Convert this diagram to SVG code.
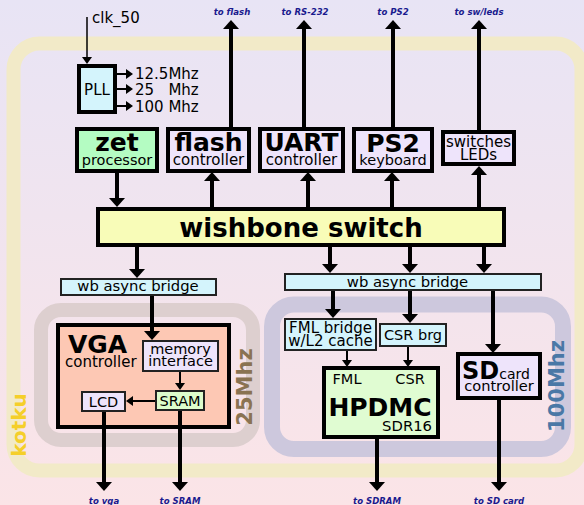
<svg xmlns="http://www.w3.org/2000/svg" width="584" height="505" viewBox="0 0 584 505">
<defs>
<linearGradient id="bg" x1="0" y1="0" x2="0" y2="1">
<stop offset="0" stop-color="#e8e4f5"/>
<stop offset="1" stop-color="#fbe4e7"/>
</linearGradient>
<marker id="ah" markerUnits="userSpaceOnUse" markerWidth="9" markerHeight="16" viewBox="0 0 9 16" refX="0" refY="8" orient="auto">
<path d="M0,0 L9,8 L0,16 z" fill="#000"/>
</marker>
<marker id="ahs" markerUnits="userSpaceOnUse" markerWidth="7" markerHeight="10" viewBox="0 0 7 10" refX="0" refY="5" orient="auto">
<path d="M0,0 L7,5 L0,10 z" fill="#000"/>
</marker>
</defs>
<style>
text{font-family:"DejaVu Sans","Liberation Sans",sans-serif;fill:#000}
.b{font-weight:bold}
.c{text-anchor:middle}
.box{stroke:#000;stroke-width:4}
.sm{stroke:#222;stroke-width:2}
.ln{stroke:#000;stroke-width:4;fill:none;marker-end:url(#ah)}
.tn{stroke:#000;stroke-width:2;fill:none;marker-end:url(#ahs)}
.lbl{font-family:"DejaVu Sans","Liberation Sans",sans-serif;font-style:italic;font-stretch:condensed;font-size:9.5px;font-weight:600;fill:#1a1a8e;text-anchor:middle}
.pre{white-space:pre}
</style>
<rect width="584" height="505" fill="url(#bg)"/>

<g id="domains">
<rect x="13.5" y="43.5" width="568" height="427" rx="26" fill="none" stroke="#f2eac8" stroke-width="14"/>
<rect x="41" y="310" width="212" height="130" rx="20" fill="none" stroke="#ddcfcf" stroke-width="14"/>
<rect x="272" y="304.5" width="291" height="144.5" rx="22" fill="none" stroke="#cdc8dd" stroke-width="16"/>
<text class="b c" font-size="20" style="fill:#f5cf2a" transform="translate(26,425) rotate(-90)">kotku</text>
<text class="b c" font-size="21" style="fill:#8a7352" transform="translate(252,387) rotate(-90)">25Mhz</text>
<text class="b c" font-size="21" style="fill:#4a78a6" transform="translate(564,386) rotate(-90)">100Mhz</text>
</g>

<g id="labels">
<text x="92" y="23" font-size="15">clk_50</text>
<text class="pre" x="135" y="79" font-size="15">12.5Mhz</text>
<text class="pre" x="135" y="95" font-size="15">25   Mhz</text>
<text class="pre" x="135" y="112" font-size="15">100 Mhz</text>
<text class="lbl" x="232" y="15">to flash</text>
<text class="lbl" x="305" y="15">to RS-232</text>
<text class="lbl" x="393" y="15">to PS2</text>
<text class="lbl" x="479" y="15">to sw/leds</text>
<text class="lbl" x="104" y="504">to vga</text>
<text class="lbl" x="180" y="504">to SRAM</text>
<text class="lbl" x="377" y="504">to SDRAM</text>
<text class="lbl" x="499" y="504">to SD card</text>
</g>

<g id="pll">
<rect class="box" x="79" y="66" width="36" height="46" fill="#d4f4fc"/>
<text class="c" x="97" y="95" font-size="15">PLL</text>
</g>
<g id="zet">
<rect class="box" x="77" y="129" width="80" height="42" fill="#b4fcc2"/>
<text class="b c" x="117" y="151" font-size="25">zet</text>
<text class="c" x="117" y="165" font-size="14.5">processor</text>
</g>
<g id="flash">
<rect class="box" x="168" y="129" width="81" height="42" fill="#eee4fb"/>
<text class="b c" x="208.5" y="151" font-size="25">flash</text>
<text class="c" x="208.5" y="165" font-size="15">controller</text>
</g>
<g id="uart">
<rect class="box" x="260" y="129" width="83" height="42" fill="#eee4fb"/>
<text class="b c" x="301.5" y="151" font-size="25">UART</text>
<text class="c" x="301.5" y="165" font-size="15">controller</text>
</g>
<g id="ps2">
<rect class="box" x="354" y="129" width="78" height="42" fill="#eee4fb"/>
<text class="b c" x="393" y="152" font-size="25">PS2</text>
<text class="c" x="393" y="165" font-size="14.5">keyboard</text>
</g>
<g id="switches">
<rect class="box" x="443" y="132" width="71" height="32" fill="#eee4fb"/>
<text class="c" x="478.5" y="147" font-size="15">switches</text>
<text class="c" x="478.5" y="160" font-size="15">LEDs</text>
</g>
<g id="wishbone">
<rect class="box" x="98" y="209" width="406" height="36" fill="#f8fcb8"/>
<text class="b c" x="301" y="237" font-size="26">wishbone switch</text>
</g>
<g id="bridge-left">
<rect class="sm" x="61" y="279" width="155" height="16" fill="#d4f4fc"/>
<text class="c" x="138" y="291" font-size="14.8">wb async bridge</text>
</g>
<g id="bridge-right">
<rect class="sm" x="285" y="274" width="256" height="16" fill="#d4f4fc"/>
<text class="c" x="407.5" y="287" font-size="14.8">wb async bridge</text>
</g>
<g id="vga">
<rect class="box" x="58" y="325" width="171" height="102" fill="#fdc8b4"/>
<text class="b" x="68" y="353" font-size="25">VGA</text>
<text x="65" y="367" font-size="15">controller</text>
</g>
<g id="memory-interface">
<rect class="sm" x="143" y="341" width="75" height="30" fill="#eee4fb"/>
<text class="c" x="180.5" y="354" font-size="14.5">memory</text>
<text class="c" x="180.5" y="366" font-size="14.5">interface</text>
</g>
<g id="lcd">
<rect class="sm" x="82" y="392" width="43" height="19" fill="#eee4fb"/>
<text class="c" x="103.5" y="407" font-size="14.5">LCD</text>
</g>
<g id="sram">
<rect class="sm" x="156" y="391" width="48" height="19" fill="#dcfccc"/>
<text class="c" x="180" y="406" font-size="14.5">SRAM</text>
</g>
<g id="fml-bridge">
<rect class="sm" x="285" y="319" width="91" height="31" fill="#d4f4fc"/>
<text class="c" x="330.5" y="333" font-size="15">FML bridge</text>
<text class="c" x="330.5" y="346" font-size="15">w/L2 cache</text>
</g>
<g id="csr-brg">
<rect class="sm" x="380" y="324" width="66" height="22" fill="#d4f4fc"/>
<text class="c" x="413" y="340" font-size="14.5">CSR brg</text>
</g>
<g id="hpdmc">
<rect class="box" x="324" y="368" width="114" height="69" fill="#e0fcd2"/>
<text class="c" x="347" y="384" font-size="14.5">FML</text>
<text class="c" x="410" y="384" font-size="14.5">CSR</text>
<text class="b c" x="380" y="416" font-size="25">HPDMC</text>
<text x="432" y="431" font-size="14.8" text-anchor="end">SDR16</text>
</g>
<g id="sd">
<rect class="box" x="458" y="354" width="82" height="44" fill="#eee4fb"/>
<text x="462" y="379" font-size="24" class="b">SD<tspan font-weight="normal" font-size="14">card</tspan></text>
<text class="c" x="499" y="391" font-size="14.6">controller</text>
</g>

<g id="connectors">
<path d="M87,17 V57" stroke="#000" stroke-width="1.5" fill="none" marker-end="url(#ahs)"/>
<path class="tn" d="M117,74 H126"/>
<path class="tn" d="M117,89 H126"/>
<path class="tn" d="M117,106 H126"/>
<path class="ln" d="M231,127 V29"/>
<path class="ln" d="M304,127 V29"/>
<path class="ln" d="M393,127 V29"/>
<path class="ln" d="M479,130 V29"/>
<path class="ln" d="M117,173 V198"/>
<path class="ln" d="M212,207 V181"/>
<path class="ln" d="M308,207 V181"/>
<path class="ln" d="M392,207 V181"/>
<path class="ln" d="M479,207 V175"/>
<path class="ln" d="M137,247 V269"/>
<path class="ln" d="M152,296 V331"/>
<path class="ln" d="M330,247 V264"/>
<path class="ln" d="M410,247 V264"/>
<path class="ln" d="M484,247 V264"/>
<path class="ln" d="M333,291 V309"/>
<path class="ln" d="M410,291 V314"/>
<path class="ln" d="M493,291 V344"/>
<path class="tn" d="M347,351 V360"/>
<path class="tn" d="M408,347 V360"/>
<path class="tn" d="M180,372 V383"/>
<path class="tn" d="M155,401 H133"/>
<path class="ln" d="M104,412 V482"/>
<path class="ln" d="M180,411 V482"/>
<path class="ln" d="M377,439 V482"/>
<path class="ln" d="M499,400 V482"/>
</g>
</svg>
